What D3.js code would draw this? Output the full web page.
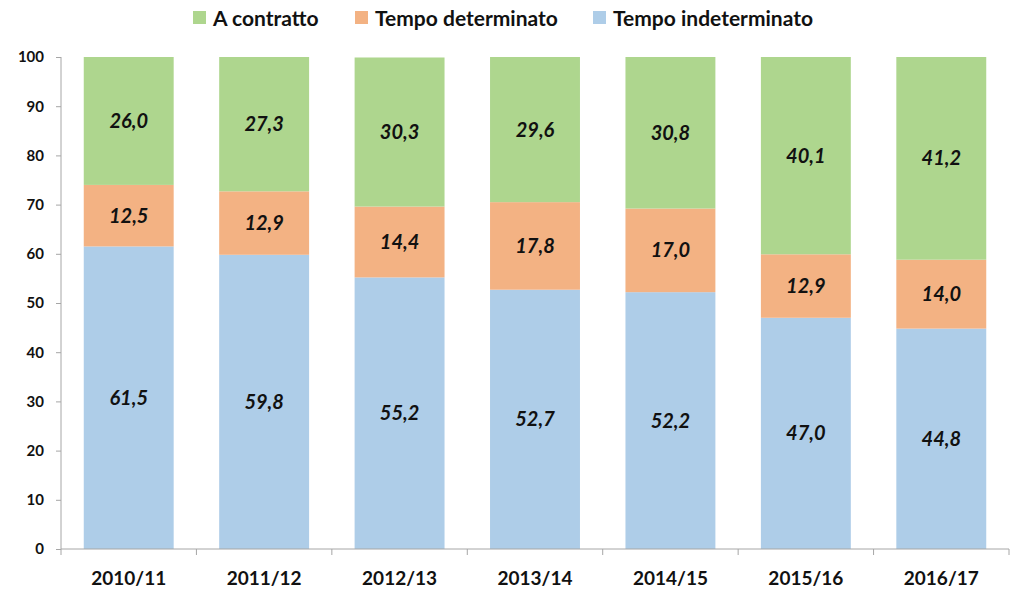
<!DOCTYPE html>
<html><head><meta charset="utf-8">
<script src="https://cdn.jsdelivr.net/npm/d3@7"></script>
<style>body{margin:0;background:#fff;}svg{display:block;}text{font-family:Lato,"Open Sans",sans-serif;}</style>
</head><body>
<svg id="c" width="1024" height="600"></svg>
<script>
const categories = ["2010/11","2011/12","2012/13","2013/14","2014/15","2015/16","2016/17"];
const indeterminato = [61.5,59.8,55.2,52.7,52.2,47.0,44.8];
const determinato = [12.5,12.9,14.4,17.8,17.0,12.9,14.0];
const contratto = [26.0,27.3,30.3,29.6,30.8,40.1,41.2];
const seriesNames = ["Tempo indeterminato","Tempo determinato","A contratto"];
const legendOrder = ["A contratto","Tempo determinato","Tempo indeterminato"];
const yTicks = [0,10,20,30,40,50,60,70,80,90,100];
const colors = {"Tempo indeterminato":"#aecde8","Tempo determinato":"#f3b283","A contratto":"#aed68e"};

const svg = d3.select("#c");
const x = d3.scaleBand().domain(categories).range([61,1009]).paddingInner(0.336).paddingOuter(0.168);
const y = d3.scaleLinear().domain([0,100]).range([549,57]);

const rows = categories.map((c,i)=>({cat:c,"Tempo indeterminato":indeterminato[i],"Tempo determinato":determinato[i],"A contratto":contratto[i]}));
const stack = d3.stack().keys(seriesNames)(rows);

const fmt = v => v.toFixed(1).replace(".",",");

const g = svg.append("g");
stack.forEach(layer=>{
  const key = layer.key;
  g.selectAll(null).data(layer).enter().append("rect")
    .attr("x",d=>x(d.data.cat)).attr("width",x.bandwidth())
    .attr("y",d=>y(Math.min(d[1],100))).attr("height",d=>y(d[0])-y(Math.min(d[1],100)))
    .attr("fill",colors[key]);
  g.selectAll(null).data(layer).enter().append("text")
    .attr("x",d=>x(d.data.cat)+x.bandwidth()/2)
    .attr("y",d=>y((d[0]+Math.min(d[1],100))/2))
    .attr("dy","0.35em").attr("text-anchor","middle")
    .style("font-size","20px").style("font-weight","bold").style("font-style","italic").attr("fill","#111")
    .text(d=>fmt(d.data[key]));
});

// y axis
const ya = svg.append("g").attr("transform","translate(61,0)")
  .call(d3.axisLeft(y).tickValues(yTicks).tickSize(5).tickPadding(12));
ya.select(".domain").attr("stroke","#a6a6a6").attr("d","M0,57V549");
ya.selectAll(".tick line").attr("stroke","#a6a6a6");
ya.selectAll(".tick text").style("font-size","15px").style("font-weight","bold").attr("fill","#111").style("font-family","Lato,sans-serif");

// x axis
const xa = svg.append("g").attr("transform","translate(0,549)")
  .call(d3.axisBottom(x).tickSize(0).tickPadding(23));
xa.select(".domain").attr("stroke","#a6a6a6").attr("d","M61,0H1009");
xa.selectAll(".tick text").style("font-size","19px").style("font-weight","bold").attr("fill","#111").style("font-family","Lato,sans-serif");
const step = x.step();
svg.append("g").selectAll("line").data(d3.range(categories.length+1)).enter().append("line")
  .attr("x1",i=>61+i*step).attr("x2",i=>61+i*step).attr("y1",549).attr("y2",555).attr("stroke","#a6a6a6");

// legend
const legX = [193,355,593];
const lg = svg.append("g");
legendOrder.forEach((k,i)=>{
  lg.append("rect").attr("x",legX[i]).attr("y",11).attr("width",13).attr("height",13).attr("fill",colors[k]);
  lg.append("text").attr("x",legX[i]+20).attr("y",19).attr("dy","0.35em")
    .style("font-size","21px").style("font-weight","bold").attr("fill","#111").text(k);
});
</script>
</body></html>
